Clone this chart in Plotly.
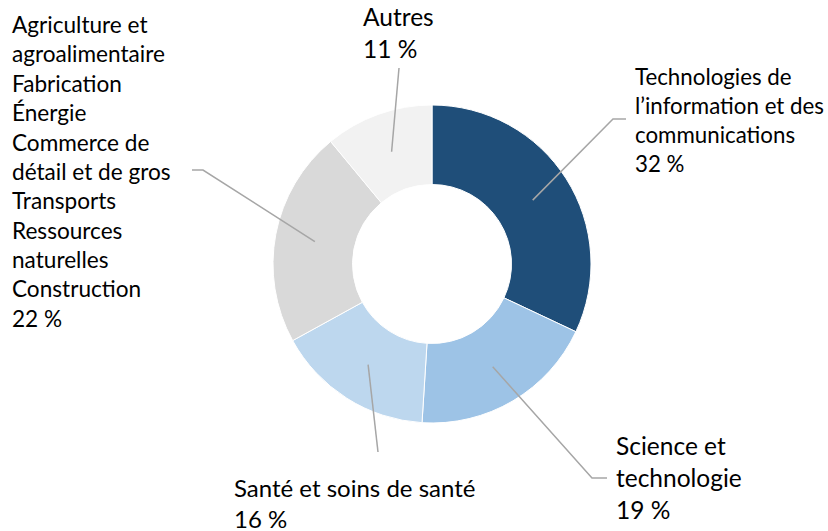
import math
import plotly.graph_objects as go

# ---- data ----
categories = [
    "Technologies de<br>l’information et des<br>communications",
    "Science et<br>technologie",
    "Santé et soins de santé",
    "Agriculture et<br>agroalimentaire<br>Fabrication<br>Énergie<br>Commerce de<br>détail et de gros<br>Transports<br>Ressources<br>naturelles<br>Construction",
    "Autres",
]
values = [32, 19, 16, 22, 11]
colors = ["#1F4E79", "#9DC3E6", "#BDD7EE", "#D9D9D9", "#F2F2F2"]

# ---- layout constants (pixels) ----
W, H = 828, 531
CX, CY, R = 432, 264, 159
HOLE = 0.5
FONT = "Lato"

def fx(px):
    return px / W

def fy(py):
    return 1 - py / H

# label placement: (x, top y, xanchor, align, font size), leader elbow points
label_pos = [
    (633, 61, "left", "left", 22.3),
    (614, 429, "left", "left", 24.5),
    (232, 471, "left", "left", 24.0),
    (10, 9, "left", "left", 22.6),
    (361, 0, "left", "left", 24.5),
]
leader_end = [
    [(613, 119), (626, 119)],
    [(592, 478), (607, 478)],
    [(378, 452)],
    [(203, 170), (192, 170)],
    [(399, 68)],
]

fig = go.Figure(go.Pie(
    labels=[c.replace("<br>", " ") for c in categories],
    values=values,
    sort=False,
    direction="clockwise",
    rotation=0,
    hole=HOLE,
    marker=dict(colors=colors, line=dict(color="white", width=1)),
    textinfo="none",
    showlegend=False,
    domain=dict(x=[fx(CX - R), fx(CX + R)], y=[fy(CY + R), fy(CY - R)]),
))

total = sum(values)
cum = 0
shapes = []
annotations = []
for i, v in enumerate(values):
    mid = (cum + v / 2) / total * 2 * math.pi
    cum += v
    rm = R * (1 + HOLE) / 2
    sx = CX + rm * math.sin(mid)
    sy = CY - rm * math.cos(mid)
    pts = [(sx, sy)] + leader_end[i]
    path = "M " + " L ".join(f"{fx(x)},{fy(y)}" for x, y in pts)
    shapes.append(dict(type="path", xref="paper", yref="paper", path=path,
                       line=dict(color="#A6A6A6", width=1.5)))
    x, y, xa, al, fs = label_pos[i]
    annotations.append(dict(
        xref="paper", yref="paper", x=fx(x), y=fy(y), xanchor=xa, yanchor="top",
        align=al, showarrow=False,
        text=f"{categories[i]}<br>{values[i]} %",
        font=dict(family=FONT, size=fs, color="#000000"),
    ))

fig.update_layout(
    width=W, height=H,
    margin=dict(l=0, r=0, t=0, b=0),
    paper_bgcolor="white", plot_bgcolor="white",
    shapes=shapes, annotations=annotations,
)
fig.write_html(
    "out.html",
    config={"displayModeBar": False},
    post_script="document.body.style.margin='0';document.body.style.overflow='hidden';",
)
